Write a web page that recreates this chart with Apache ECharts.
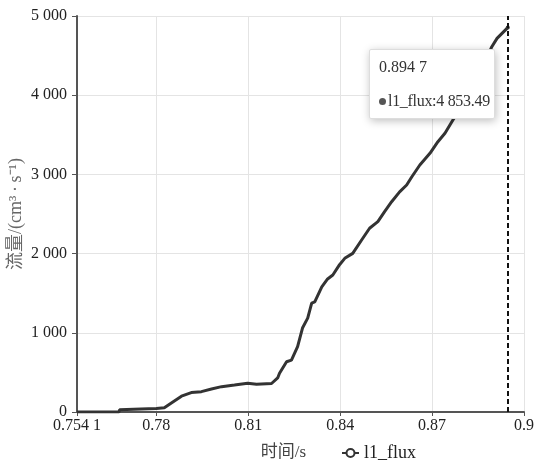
<!DOCTYPE html>
<html><head><meta charset="utf-8">
<script src="https://cdn.jsdelivr.net/npm/echarts@6/dist/echarts.min.js"></script>
<style>html,body{margin:0;padding:0;background:#fff}#c{width:536px;height:466px}</style>
</head><body><div id="c"></div>
<script>
const seriesName = 'l1_flux';
const xAxisName = '时间/s';
const yAxisName = '流量/(cm³\u2009·\u2009s⁻¹)';
const xMin = 0.7541, xMax = 0.9;
const yMin = 0, yMax = 5000, yInterval = 1000;
const timeValues = [0.7541, 0.7678, 0.7680, 0.7750, 0.7800, 0.7826, 0.7849, 0.7882, 0.7914, 0.7947,
  0.7980, 0.8013, 0.8055, 0.8098, 0.8127, 0.8176, 0.8196, 0.8202, 0.8225, 0.8241,
  0.8261, 0.8277, 0.8294, 0.8307, 0.8317, 0.8340, 0.8359, 0.8376, 0.8398, 0.8415,
  0.8441, 0.8470, 0.8496, 0.8523, 0.8545, 0.8568, 0.8594, 0.8617, 0.8634, 0.8660,
  0.8693, 0.8719, 0.8742, 0.8768, 0.8801, 0.8833, 0.8866, 0.8895, 0.8912, 0.8947];
const fluxValues = [0, 0, 28, 38, 45, 55, 115, 200, 245, 257,
  290, 320, 340, 362, 350, 360, 430, 490, 635, 655,
  825, 1060, 1185, 1375, 1390, 1580, 1680, 1730, 1860, 1940,
  2003, 2172, 2320, 2403, 2530, 2655, 2780, 2866, 2970, 3119,
  3266, 3413, 3519, 3687, 3880, 4110, 4360, 4612, 4718, 4853.49];
const tooltipIndex = timeValues.length - 1;

function groupNum(v) {
  const r = Math.round(v * 1e6) / 1e6;
  let parts = String(r).split('.');
  let i = parts[0], d = parts[1];
  if (i.length > 3) i = i.replace(/\B(?=(\d{3})+(?!\d))/g, ' ');
  if (d) d = d.replace(/(\d{3})(?=\d)/g, '$1 ');
  return d ? i + '.' + d : i;
}

const FONT = "'Liberation Serif', 'Times New Roman', 'Noto Sans CJK SC', serif";
const chart = echarts.init(document.getElementById('c'), null, {renderer: 'canvas'});
chart.setOption({
  animation: false,
  backgroundColor: '#fff',
  textStyle: {fontFamily: FONT},
  grid: {left: 77, right: 12, top: 16, bottom: 54, containLabel: false, outerBoundsMode: 'none'},
  tooltip: {
    trigger: 'axis',
    alwaysShowContent: true,
    showDelay: 0,
    transitionDuration: 0,
    position: [369, 49],
    backgroundColor: '#fff',
    borderColor: '#ddd',
    borderWidth: 1,
    padding: [8, 4, 8, 9],
    extraCssText: 'box-shadow: 1px 2px 8px rgba(0,0,0,0.25); border-radius:2px;',
    textStyle: {fontFamily: FONT, fontSize: 16, color: '#333'},
    axisPointer: {type: 'line', lineStyle: {color: '#111', width: 2, type: [5, 3]}, label: {show: false}},
    formatter: function (params) {
      const p = params[0];
      return '<div style="line-height:18px">' + groupNum(p.data[0]) + '</div>' +
        '<div style="line-height:18px;margin-top:16px;letter-spacing:-0.3px">' +
        '<span style="display:inline-block;width:7px;height:7px;border-radius:50%;background:#555;margin-right:2px;vertical-align:1px"></span>' +
        p.seriesName + ':' + groupNum(p.data[1]) + '</div>';
    }
  },
  legend: {
    left: 336, top: 439,
    itemWidth: 17, itemHeight: 10, itemGap: 10,
    textStyle: {fontFamily: FONT, fontSize: 18, color: '#222'},
    data: [seriesName]
  },
  xAxis: {
    type: 'value',
    min: xMin, max: xMax, splitNumber: 5,
    name: xAxisName, nameLocation: 'middle', nameGap: 32, nameMoveOverlap: false,
    nameTextStyle: {fontFamily: FONT, fontSize: 17, color: '#444', padding: [0, 34, 0, 0]},
    axisLine: {show: true, lineStyle: {color: '#555', width: 2}},
    axisTick: {show: true, length: 4, lineStyle: {color: '#555'}},
    axisLabel: {fontFamily: FONT, fontSize: 16, color: '#222', margin: 6, formatter: v => groupNum(v)},
    splitLine: {show: true, lineStyle: {color: '#e4e4e4', width: 1}}
  },
  yAxis: {
    type: 'value',
    min: yMin, max: yMax, interval: yInterval,
    name: yAxisName, nameLocation: 'middle', nameGap: 52, nameMoveOverlap: false,
    nameTextStyle: {fontFamily: FONT, fontSize: 18, color: '#666'},
    axisLine: {show: true, lineStyle: {color: '#555', width: 2}},
    axisTick: {show: true, length: 5, lineStyle: {color: '#555'}},
    axisLabel: {fontFamily: FONT, fontSize: 16, color: '#222', margin: 10, formatter: v => groupNum(v)},
    splitLine: {show: true, lineStyle: {color: '#e4e4e4', width: 1}}
  },
  series: [{
    name: seriesName,
    type: 'line',
    data: timeValues.map((t, i) => [t, fluxValues[i]]),
    showSymbol: false,
    symbol: 'emptyCircle',
    symbolSize: 0,
    lineStyle: {color: '#333', width: 3},
    itemStyle: {color: '#333'},
    emphasis: {disabled: true}
  }]
});
chart.dispatchAction({type: 'showTip', seriesIndex: 0, dataIndex: tooltipIndex});
</script>
</body></html>
